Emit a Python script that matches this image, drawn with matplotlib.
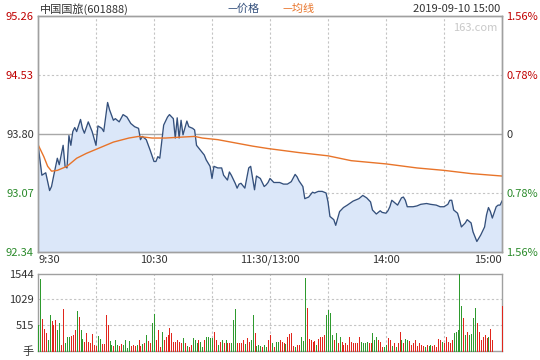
import matplotlib
matplotlib.use("Agg")
import matplotlib.pyplot as plt
import matplotlib.transforms as mtransforms

plt.rcParams['font.family'] = ['Noto Sans CJK SC', 'DejaVu Sans']

# ---------------- data ----------------
TITLE = "中国国旅(601888)"
STAMP = "2019-09-10 15:00"
PREV_CLOSE = 93.80

# minute index (0 = 9:30, 120 = 11:30/13:00, 240 = 15:00) and price
price_t = [0, 1, 2, 4, 6, 7, 8, 10, 11, 13, 14, 15, 16, 17, 18, 19, 20, 22, 23, 24,
           26, 28, 30, 31, 33, 34, 36, 37, 39, 40, 42, 44, 46, 48, 50, 52, 53, 54, 56, 58,
           60, 61, 62, 63, 65, 67, 68, 70, 71, 72, 73, 74, 75, 77, 78, 80, 81, 82, 84, 86,
           87, 89, 90, 91, 93, 95, 96, 98, 99, 100, 102, 103, 104, 105, 107, 109, 110, 112, 113, 115,
           117, 118, 119, 120, 122, 125, 127, 129, 131, 133, 134, 135, 137, 138, 140, 142, 143, 145, 147, 149,
           150, 151, 153, 154, 156, 158, 160, 163, 166, 168, 170, 172, 173, 175, 177, 178, 180, 181, 182, 183,
           185, 186, 188, 189, 190, 191, 194, 196, 198, 201, 203, 206, 208, 210, 212, 213, 214, 215, 217, 218,
           219, 221, 222, 224, 225, 227, 229, 231, 232, 233, 234, 235, 237, 238, 239, 240]
price_v = [93.67, 93.48, 93.29, 93.32, 93.10, 93.15, 93.27, 93.50, 93.42, 93.66, 93.40, 93.38, 93.78, 93.66, 93.83, 93.88, 93.83, 93.98, 93.87, 93.81,
           93.95, 93.83, 93.66, 93.90, 93.87, 93.83, 94.19, 94.10, 93.97, 93.99, 93.95, 94.04, 94.01, 93.93, 93.89, 93.87, 93.73, 93.77, 93.73, 93.60,
           93.46, 93.46, 93.52, 93.50, 93.91, 94.01, 94.04, 93.99, 93.75, 94.00, 93.75, 93.97, 93.79, 93.96, 93.89, 93.87, 93.85, 93.66, 93.60, 93.54,
           93.48, 93.40, 93.25, 93.40, 93.38, 93.38, 93.29, 93.23, 93.33, 93.29, 93.19, 93.13, 93.18, 93.19, 93.13, 93.38, 93.40, 93.11, 93.28, 93.25,
           93.15, 93.17, 93.20, 93.25, 93.20, 93.20, 93.18, 93.18, 93.21, 93.30, 93.27, 93.22, 93.15, 93.00, 93.02, 93.08, 93.07, 93.09, 93.09, 93.07,
           92.96, 92.78, 92.74, 92.67, 92.84, 92.89, 92.92, 92.97, 93.00, 93.04, 93.01, 92.96, 92.86, 92.81, 92.85, 92.83, 92.82, 92.85, 92.90, 92.98,
           92.94, 92.92, 93.01, 93.02, 92.98, 92.90, 92.90, 92.91, 92.93, 92.94, 92.93, 92.92, 92.90, 92.90, 92.93, 92.98, 92.98, 92.86, 92.82, 92.74,
           92.65, 92.70, 92.74, 92.70, 92.59, 92.47, 92.55, 92.65, 92.80, 92.89, 92.84, 92.76, 92.90, 92.92, 92.92, 92.97]

avg_t = [0, 3, 5, 7, 10, 15, 20, 25, 34, 39, 47, 52, 59, 66, 73, 81, 85, 93, 102, 111,
         119, 135, 150, 162, 180, 196, 210, 224, 240]
avg_v = [93.67, 93.52, 93.40, 93.34, 93.35, 93.40, 93.50, 93.56, 93.65, 93.70, 93.75, 93.77, 93.75, 93.75, 93.76, 93.77, 93.75, 93.73, 93.69, 93.65,
         93.62, 93.57, 93.53, 93.47, 93.43, 93.38, 93.35, 93.31, 93.28]

# volume per minute (手), and bar colour: r = up, g = down
volume = [519, 1437, 639, 433, 353, 220, 719, 599, 519, 619, 419, 552, 120, 839, 153, 273, 286, 300, 320, 419,
          799, 672, 419, 233, 186, 366, 186, 166, 339, 120, 100, 300, 233, 133, 133, 719, 519, 200, 120, 100,
          220, 120, 100, 133, 120, 220, 53, 200, 100, 120, 100, 120, 220, 100, 133, 150, 320, 200, 150, 552,
          739, 220, 419, 87, 386, 220, 286, 320, 452, 353, 186, 186, 220, 186, 153, 253, 153, 100, 87, 120,
          253, 220, 153, 220, 186, 87, 220, 286, 286, 253, 253, 386, 220, 120, 186, 220, 153, 220, 153, 153,
          153, 619, 832, 153, 166, 153, 220, 140, 253, 186, 220, 719, 353, 100, 120, 100, 87, 120, 87, 220,
          320, 153, 87, 186, 186, 220, 186, 153, 140, 286, 333, 353, 100, 87, 120, 120, 273, 206, 1450, 852,
          233, 220, 186, 206, 120, 233, 286, 286, 320, 719, 819, 752, 320, 220, 353, 153, 286, 186, 120, 153,
          120, 286, 186, 166, 153, 153, 286, 186, 153, 153, 186, 153, 153, 353, 220, 286, 220, 186, 87, 87,
          120, 253, 220, 100, 153, 87, 153, 386, 220, 153, 233, 220, 200, 120, 153, 220, 100, 153, 120, 100,
          87, 113, 100, 120, 100, 120, 87, 233, 220, 186, 153, 286, 186, 153, 220, 353, 386, 419, 1530, 905,
          652, 320, 386, 320, 339, 665, 852, 566, 386, 220, 286, 320, 253, 286, 433, 220, 0, 0, 0, 0, 905]
vol_dir = list("ggrrrggrrrggrrgggrrr"
               "grggrrrrrrrggrrrrggr"
               "ggrrggggrrrgrrgrgrrg"
               "grrrgrrrrrrrrrrgrgrr"
               "gggrggrggggrrgrgrgrr"
               "gggrrrrgrrggrgggrggr"
               "rgrggrrrgrrrrgrrgggr"
               "rrrrgrrrrggggrgrgrrr"
               "rrrrrrrggggrrgggrrrg"
               "grrgrgrrgrggrrrrrrrr"
               "grggrrrrrgrrrrrggggg"
               "rgrggggrrrrrrgrrrrrrr")

price_ticks = [92.34, 93.07, 93.80, 94.53, 95.26]
price_colors = ['#2a8a2a', '#2a8a2a', '#333333', '#c00000', '#c00000']
pct_labels = ['1.56%', '0.78%', '0', '0.78%', '1.56%']
vol_ticks = [0, 515, 1029, 1544]
vol_labels = ['手', '515', '1029', '1544']
time_pos = [0, 60, 120, 180, 240]
time_labels = ['9:30', '10:30', '11:30/13:00', '14:00', '15:00']

# ---------------- style ----------------
BORDER = '#a0a0a0'
GRID = '#c4c4c4'
TXT = '#333333'
LINE_BLUE = '#34507c'
FILL_BLUE = '#dbe7f9'
AVG_ORANGE = '#e8742a'
UP_RED = '#e0261c'
DOWN_GREEN = '#2e9a2e'
FS = 8

fig = plt.figure(figsize=(5.4, 3.6), dpi=100)
fig.patch.set_facecolor('white')

ax = fig.add_axes([38 / 540, 1 - 252 / 360, 464 / 540, 236 / 360])
axv = fig.add_axes([38 / 540, 1 - 351 / 360, 464 / 540, 77.3 / 360])

# price panel
ax.set_xlim(0, 240)
ax.set_ylim(price_ticks[0], price_ticks[-1])
for x in range(30, 240, 30):
    ax.axvline(x, color=GRID, lw=0.8, ls=(0, (2, 2)), zorder=1)
for y in (93.07, 94.53):
    ax.axhline(y, color=GRID, lw=0.8, ls=(0, (2, 2)), zorder=1)
ax.axhline(PREV_CLOSE, color='#a8a8a8', lw=1.0, zorder=1)

ax.fill_between(price_t, price_v, price_ticks[0], color=FILL_BLUE, lw=0, zorder=2)
ax.plot(price_t, price_v, color=LINE_BLUE, lw=0.95, zorder=3)
ax.plot(avg_t, avg_v, color=AVG_ORANGE, lw=1.0, zorder=4)

ax.set_xticks([])
ax.set_yticks(price_ticks)
ax.set_yticklabels([f"{v:.2f}" for v in price_ticks], fontsize=FS)
for lab, c in zip(ax.get_yticklabels(), price_colors):
    lab.set_color(c)
ax.tick_params(axis='y', length=0, pad=3)

axr = ax.twinx()
axr.set_ylim(price_ticks[0], price_ticks[-1])
axr.set_yticks(price_ticks)
axr.set_yticklabels(pct_labels, fontsize=FS)
for lab, c in zip(axr.get_yticklabels(), price_colors):
    lab.set_color(c)
axr.tick_params(axis='y', length=0, pad=3)

for a in (ax, axr):
    for s in a.spines.values():
        s.set_color(BORDER)
        s.set_linewidth(1.0)

trans = mtransforms.blended_transform_factory(ax.transData, ax.transAxes)
for x, lab in zip(time_pos, time_labels):
    ha = 'left' if x == 0 else ('right' if x == 240 else 'center')
    ax.text(x + (0.5 if x == 0 else 0), -0.034, lab, transform=trans, ha=ha, va='center',
            fontsize=FS, color=TXT)

# header
fig.text(40 / 540, 1 - 9 / 360, TITLE, fontsize=FS, color=TXT, va='center', ha='left')
fig.text(227 / 540, 1 - 9 / 360, "—价格", fontsize=FS, color=LINE_BLUE, va='center', ha='left')
fig.text(282 / 540, 1 - 9 / 360, "—均线", fontsize=FS, color=AVG_ORANGE, va='center', ha='left')
fig.text(500 / 540, 1 - 9 / 360, STAMP, fontsize=FS, color=TXT, va='center', ha='right')
ax.text(0.99, 0.97, "163.com", transform=ax.transAxes, fontsize=FS, color='#c8c8c8',
        ha='right', va='top')

# volume panel: 1px wide bars, not antialiased so colours stay pure
xs = list(range(len(volume)))
cols = [UP_RED if d == 'r' else DOWN_GREEN for d in vol_dir]
axv.vlines(xs, 0, volume, colors=cols, lw=0.72, antialiased=False, zorder=3, clip_on=False)
axv.set_xlim(0, 240)
axv.set_ylim(0, vol_ticks[-1])
for x in range(30, 240, 30):
    axv.axvline(x, color=GRID, lw=0.8, ls=(0, (2, 2)), zorder=1)
for y in (515, 1029):
    axv.axhline(y, color=GRID, lw=0.8, ls=(0, (2, 2)), zorder=1)
axv.set_xticks([])
axv.set_yticks(vol_ticks)
axv.set_yticklabels(vol_labels, fontsize=FS, color=TXT)
axv.tick_params(axis='y', length=0, pad=3)
for s in axv.spines.values():
    s.set_color(BORDER)
    s.set_linewidth(1.0)
    s.set_zorder(2)

fig.savefig("out.png", dpi=100)
